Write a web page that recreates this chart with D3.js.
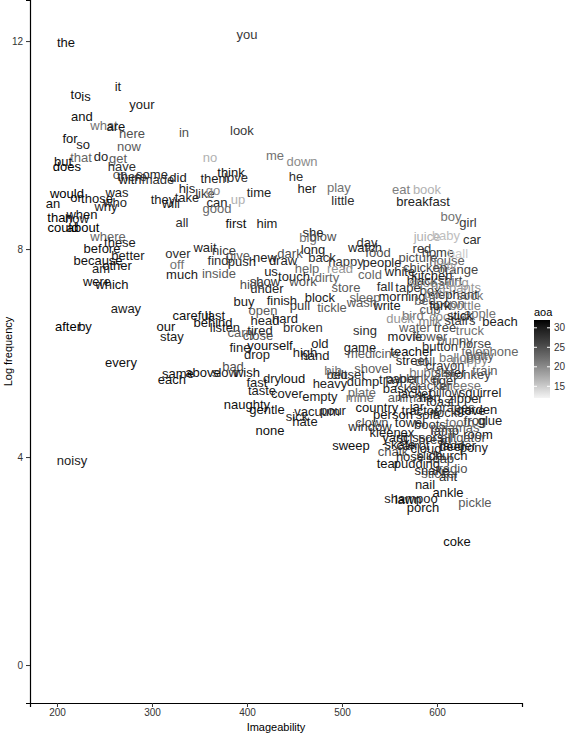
<!DOCTYPE html>
<html>
<head>
<meta charset="utf-8">
<script src="https://cdn.jsdelivr.net/npm/d3@7"></script>
<style>
  body { margin: 0; background: #fff; }
  svg { display: block; font-family: "Liberation Sans", Arial, sans-serif; }
</style>
</head>
<body>
<div id="chart"></div>
<script>

// words, imageability, log frequency and age of acquisition (aoa)
var words = [
  "the","you","it","to","is","your","and","what","are","here","in","look",
  "for","so","now","that","do","get","no","me","down","but","does","have",
  "some","on","there","with","made","did","think","them","love","he","her","play",
  "little","eat","book","breakfast","his","take","like","go","time","can","up","good",
  "first","him","would","or","those","was","who","why","an","they","will","when",
  "than","how","could","about","all","boy","girl","juice","baby","car","she","big",
  "blow","long","where","these","before","better","because","other","am","over","off","much",
  "wait","nice","give","find","push","new","dark","draw","back","happy","people","day",
  "watch","food","red","home","ball","picture","house","orange","inside","us","help","read",
  "cold","white","touch","work","dirty","show","under","hide","store","fall","tape","box",
  "pants","black","shirt","elephant","morning","sleep","wash","write","were","which","away","buy",
  "finish","block","pull","tickle","open","careful","last","behind","listen","head","hard","carry",
  "tired","broken","close","yourself","old","beach","after","by","our","stay","sing","fine",
  "drop","high","hand","movie","game","teacher","medicine","telephone","street","every","same","each",
  "above","slow","bad","wish","dry","loud","fast","taste","cover","empty","bib","belt",
  "heavy","shovel","closet","tray","dump","sister","basket","squirrel","plate","mine","animal","hen",
  "naughty","gentle","sick","vacuum","pour","hate","country","jar","garden","person","sofa","tooth",
  "clown","window","none","kleenex","lamp","room","alligator","sweep","skate","cloud","deer","pony",
  "chalk","hose","church","tear","pudding","radio","sticker","ant","nail","ankle","pickle","shampoo",
  "lawn","porch","coke","noisy",
  "kitty","chicken","kitchen","shoe","hat","dog","sock","bath","bed","spoon","bottle","cup",
  "apple","bird","cookie","stairs","duck","milk","water","tree","truck","flower","bunny","horse",
  "button","balloon","puppy","doll","crayon","bubbles","monkey","blanket","tiger","cheese","cracker","pillow",
  "zipper","toast","grapes","tractor","rock","towel","boots","scissors","bread","frog","pajamas","carrot",
  "soap","snake","yard","potty","paper","jacket","train","stove","glue","ladder","slide","fork",
  "stick"
];

var imageability = [
  209.5,400,264.2,220,230.5,289.5,226.3,249.5,262.1,279,333.7,394.7,
  213.7,227.4,275.8,225.3,246.3,264.2,361,429.5,457.9,206.3,210.5,268.4,
  300,266.3,279,276.8,306.3,327.4,383.2,366.3,388.4,451.6,463.2,496.8,
  501,562.1,589.5,585.3,336.8,336.8,355.8,364.2,412.6,368.4,390.5,368.4,
  388.4,421,210.5,220,242.1,263.2,261.1,251.6,195.8,311.6,320,226.3,
  203.2,221,206.3,227.4,331.6,614.7,632.6,589.5,609.5,636.8,469.5,464.2,
  480,469.5,253.7,266.3,247.4,274.7,243.2,263.2,246.3,327.4,326.3,331.6,
  355.8,375.8,390.5,369.5,394.7,419,445.3,437.9,478.9,504.2,542.1,526.3,
  524.2,537.9,584.2,601,622.1,580,610.5,622.1,370.5,425.3,463.2,497.9,
  529.5,561.1,449.5,459,484.2,419,421,405.3,504.2,545.3,569.5,592.6,
  629.5,584.2,613.7,616.8,563.2,524.2,521,547.4,242.1,257.9,272.6,396.8,
  436.8,476.8,455.8,489.5,416.8,342.1,366.3,364.2,376.8,419,440,394.7,
  413.7,458.9,411.6,424.2,476.8,666.3,211.6,229.5,314.7,321,524.2,392.6,
  410.5,461.1,471.6,566.3,518.9,573.7,532.6,655.8,573.7,267.4,327.4,321,
  353.7,376.8,385.3,400,426.3,448.4,410.5,415.8,442.1,476.8,490.5,494.7,
  487.4,532.6,506.3,550.5,522.1,613.7,563.2,645.3,521,518.9,568.4,592.6,
  400,421,452.6,473.7,490.5,461.1,536.8,578.9,642.1,553.7,590.5,624.2,
  531.6,529.5,424.2,552.6,608.4,643.2,627.4,509.5,561.1,588.4,615.8,638.9,
  553.7,571.6,611.6,548.4,578.9,616.8,603.2,611.6,587.4,611.6,640,572.6,
  569.5,585.3,621,215.8,
  608.4,587.4,594.7,585.3,603.2,622.1,634.7,600,587.4,610.5,629.5,592.6,
  645.3,574.7,611.6,624.2,561.1,592.6,576.8,608.4,634.7,592.6,618.9,640,
  603.2,624.2,634.7,587.4,608.4,594.7,632.6,582.1,608.4,624.2,592.6,608.4,
  629.5,603.2,618.9,582.1,608.4,571.6,592.6,582.1,597.9,640,618.9,574.7,
  603.2,594.7,555.8,645.3,563.2,576.8,650.5,634.7,655.8,622.1,592.6,603.2,
  624.2
];

var logFreq = [
  11.98,12.13,11.13,10.98,10.94,10.79,10.56,10.38,10.35,10.23,10.25,10.29,
  10.13,10.02,9.98,9.77,9.79,9.75,9.77,9.81,9.69,9.69,9.58,9.58,
  9.44,9.44,9.40,9.33,9.33,9.38,9.48,9.35,9.38,9.40,9.17,9.19,
  8.94,9.15,9.15,8.92,9.17,9.00,9.06,9.13,9.08,8.90,8.96,8.79,
  8.50,8.50,9.06,9.00,8.98,9.08,8.90,8.81,8.87,8.96,8.87,8.67,
  8.60,8.58,8.42,8.42,8.52,8.63,8.52,8.25,8.27,8.19,8.31,8.23,
  8.25,8.00,8.25,8.12,8.02,7.88,7.79,7.69,7.62,7.92,7.71,7.52,
  8.04,7.98,7.88,7.79,7.77,7.83,7.92,7.79,7.83,7.77,7.75,8.12,
  8.04,7.94,8.02,7.94,7.92,7.83,7.79,7.60,7.54,7.56,7.63,7.62,
  7.52,7.56,7.48,7.38,7.46,7.37,7.25,7.31,7.27,7.29,7.27,7.21,
  7.27,7.40,7.40,7.12,7.08,7.06,6.98,6.92,7.38,7.31,6.85,7.00,
  7.02,7.06,6.92,6.88,6.81,6.73,6.73,6.58,6.50,6.63,6.67,6.40,
  6.44,6.50,6.33,6.15,6.19,6.60,6.52,6.52,6.52,6.31,6.44,6.10,
  5.98,6.02,5.96,6.31,6.10,6.04,6.00,6.04,5.85,5.81,5.60,5.50,
  5.63,5.63,5.75,5.62,5.52,5.52,5.44,5.29,5.23,5.17,5.67,5.58,
  5.42,5.71,5.58,5.50,5.46,5.62,5.31,5.25,5.25,5.15,5.15,5.15,
  5.02,4.92,4.79,4.87,4.90,4.69,4.96,4.98,4.92,4.81,4.81,4.67,
  4.67,4.58,4.52,4.48,4.52,4.44,4.37,4.23,4.25,4.17,4.21,4.19,
  4.10,4.02,4.04,3.88,3.88,3.79,3.69,3.62,3.48,3.31,3.13,3.21,
  3.19,3.04,2.37,3.94,
  7.69,7.65,7.50,7.35,7.31,7.35,7.10,7.15,7.02,6.96,6.92,6.83,
  6.77,6.73,6.71,6.63,6.67,6.60,6.50,6.50,6.44,6.31,6.25,6.19,
  6.12,5.92,5.87,5.83,5.77,5.63,5.58,5.52,5.48,5.38,5.37,5.25,
  5.13,5.06,4.96,4.90,4.85,4.67,4.62,4.38,4.33,4.71,4.56,4.23,
  3.98,3.75,4.38,5.96,5.52,5.23,5.67,4.90,4.71,4.23,4.04,6.92,
  6.73
];

var aoa = [
  31,27,30,31,31,30,31,22,31,25,25,27,
  31,30,24,23,29,24,17,22,20,31,32,28,
  29,25,28,30,28,30,31,30,28,28,30,22,
  28,21,17,29,30,29,27,20,29,29,17,23,
  31,30,32,31,31,30,29,29,31,30,30,31,
  32,30,32,32,28,22,27,17,16,28,30,22,
  25,30,23,30,31,30,31,31,30,28,22,30,
  29,27,24,28,29,30,25,29,28,27,29,28,
  29,25,27,27,15,25,24,26,24,30,23,19,
  23,29,29,25,23,28,29,25,24,28,28,27,
  19,29,26,29,30,23,24,30,31,31,30,30,
  30,30,27,24,24,31,31,31,30,29,30,24,
  29,28,25,31,30,29,32,31,31,30,28,30,
  29,30,30,30,30,31,24,23,29,31,31,31,
  31,30,25,31,30,31,30,30,30,30,22,27,
  29,24,28,29,29,31,29,30,23,22,24,30,
  31,31,29,29,30,30,31,30,30,31,30,23,
  25,28,31,30,29,31,25,31,31,30,30,29,
  25,29,29,31,30,25,24,28,30,31,24,30,
  31,31,31,30,
  18,26,29,20,22,19,22,20,23,25,21,24,
  22,22,20,27,19,21,24,26,22,25,23,26,
  28,22,20,24,27,22,26,25,28,22,25,27,
  29,28,27,29,28,29,28,30,27,26,24,29,
  27,29,30,24,28,29,24,30,29,30,28,29,
  30
];

var xTicks = [200, 300, 400, 500, 600];
var yTicks = [0, 4, 8, 12];
var aoaTicks = [15, 20, 25, 30];
var aoaRange = [12, 32];

var width = 567, height = 733;
var margin = {top: 0, right: 45, bottom: 30, left: 30};

var svg = d3.select("#chart").append("svg")
    .attr("width", width)
    .attr("height", height);

var x = d3.scaleLinear().domain([171.6, 689.5]).range([margin.left, width - margin.right]);
var y = d3.scaleLinear().domain([-0.73, 12.79]).range([height - margin.bottom, margin.top]);

var colour = d3.scaleLinear().domain(aoaRange).range(["#f4f4f4", "#000000"])
    .interpolate(d3.interpolateLab);

// words as points
var data = words.map(function(w, i) {
  return {word: w, im: imageability[i], lf: logFreq[i], aoa: aoa[i]};
});

svg.append("g")
  .selectAll("text")
  .data(data)
  .enter().append("text")
    .attr("x", function(d) { return x(d.im); })
    .attr("y", function(d) { return y(d.lf); })
    .attr("dy", "0.35em")
    .attr("text-anchor", "middle")
    .attr("font-size", 13)
    .attr("fill", function(d) { return colour(d.aoa); })
    .text(function(d) { return d.word; });

// axes
var xAxis = svg.append("g")
    .attr("transform", "translate(0," + (height - margin.bottom) + ")")
    .call(d3.axisBottom(x).tickValues(xTicks).tickSize(4).tickPadding(2));
var yAxis = svg.append("g")
    .attr("transform", "translate(" + margin.left + ",0)")
    .call(d3.axisLeft(y).tickValues(yTicks).tickSize(4).tickPadding(3));

[xAxis, yAxis].forEach(function(a) {
  a.select(".domain").attr("stroke", "#000").attr("stroke-width", 1.2);
  a.selectAll(".tick line").attr("stroke", "#333");
  a.selectAll(".tick text").attr("fill", "#333").attr("font-size", 10)
    .attr("font-family", "Liberation Sans, Arial, sans-serif");
});

svg.append("text")
    .attr("x", (margin.left + width - margin.right) / 2)
    .attr("y", height - 2)
    .attr("text-anchor", "middle")
    .attr("font-size", 11)
    .text("Imageability");

svg.append("text")
    .attr("transform", "translate(12," + ((height - margin.bottom) / 2) + ") rotate(-90)")
    .attr("text-anchor", "middle")
    .attr("font-size", 11)
    .text("Log frequency");

// colour bar legend
var barX = 534, barW = 16, barTop = 320, barBottom = 398;
var ly = d3.scaleLinear().domain(aoaRange).range([barBottom, barTop]);

var grad = svg.append("defs").append("linearGradient")
    .attr("id", "aoaGrad")
    .attr("x1", 0).attr("y1", 1).attr("x2", 0).attr("y2", 0);
d3.range(0, 1.0001, 0.1).forEach(function(t) {
  grad.append("stop")
    .attr("offset", t)
    .attr("stop-color", colour(aoaRange[0] + t * (aoaRange[1] - aoaRange[0])));
});

svg.append("text")
    .attr("x", barX)
    .attr("y", barTop - 4)
    .attr("font-size", 11)
    .text("aoa");

svg.append("rect")
    .attr("x", barX).attr("y", barTop)
    .attr("width", barW).attr("height", barBottom - barTop)
    .attr("fill", "url(#aoaGrad)");

var lt = svg.append("g").selectAll("g")
    .data(aoaTicks)
    .enter().append("g");
lt.append("line")
    .attr("x1", barX).attr("x2", barX + 3)
    .attr("y1", function(d) { return ly(d); }).attr("y2", function(d) { return ly(d); })
    .attr("stroke", "#fff");
lt.append("line")
    .attr("x1", barX + barW - 3).attr("x2", barX + barW)
    .attr("y1", function(d) { return ly(d); }).attr("y2", function(d) { return ly(d); })
    .attr("stroke", "#fff");
lt.append("text")
    .attr("x", barX + barW + 4)
    .attr("y", function(d) { return ly(d); })
    .attr("dy", "0.35em")
    .attr("font-size", 10)
    .attr("fill", "#333")
    .text(function(d) { return d; });

</script>
</body>
</html>
